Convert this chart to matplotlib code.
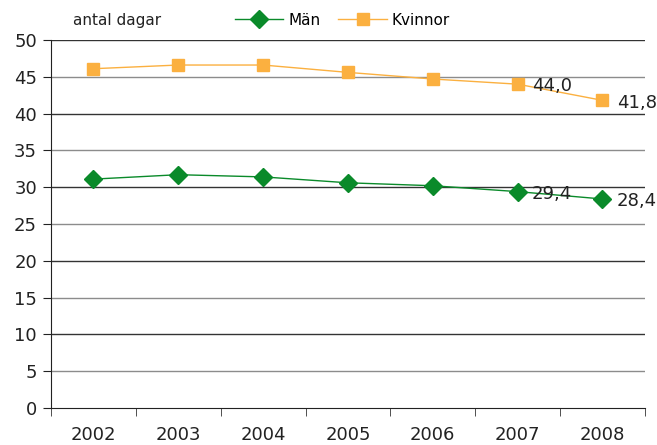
import matplotlib.pyplot as plt
import numpy as np

years = ['2002', '2003', '2004', '2005', '2006', '2007', '2008']
man = [31.1, 31.7, 31.4, 30.6, 30.2, 29.4, 28.4]
kvinnor = [46.1, 46.6, 46.6, 45.6, 44.7, 44.0, 41.8]
green = '#0a8a2a'
orange = '#fbb040'

fig = plt.figure(figsize=(6.57, 4.45), dpi=100)
ax = fig.add_axes([0.0776, 0.0831, 0.904, 0.827])

x = np.arange(len(years))

# grid lines, alternating dark / grey
for v in range(5, 51, 5):
    c = '#333333' if v % 10 == 0 else '#8c8c8c'
    ax.axhline(v, color=c, lw=1.0, zorder=0)

ax.plot(x, man, color=green, lw=1.0, marker='D', ms=9, mec=green, label='Män', zorder=3)
ax.plot(x, kvinnor, color=orange, lw=1.0, marker='s', ms=9, mec=orange, label='Kvinnor', zorder=3)

# value labels for the last two years
for i in [5, 6]:
    ax.text(x[i] + 0.17, man[i] - 0.3, f'{man[i]:.1f}'.replace('.', ','), fontsize=13,
            color='#222222', va='center', ha='left')
    ax.text(x[i] + 0.17, kvinnor[i] - 0.3, f'{kvinnor[i]:.1f}'.replace('.', ','), fontsize=13,
            color='#222222', va='center', ha='left')

ax.set_xlim(-0.5, 6.5)
ax.set_ylim(0, 50)
ax.set_yticks(range(0, 51, 5))
ax.set_xticks(x)
ax.set_xticklabels(years)
ax.set_xticks(np.arange(-0.5, 7, 1), minor=True)
ax.tick_params(axis='x', which='major', length=0, pad=13, labelsize=13, colors='#222222')
ax.tick_params(axis='x', which='minor', length=6, color='#333333')
ax.tick_params(axis='y', length=6, labelsize=13, colors='#222222', pad=4)

for s in ['top', 'right']:
    ax.spines[s].set_visible(False)
ax.spines['left'].set_color('#222222')
ax.spines['bottom'].set_color('#222222')

fig.text(0.111, 0.955, 'antal dagar', fontsize=11, color='#222222', va='center')
fig.legend(*ax.get_legend_handles_labels(), loc='center left', bbox_to_anchor=(0.357, 0.955),
           ncol=2, frameon=False, fontsize=11, handlelength=3.2, handletextpad=0.3,
           columnspacing=1.2, borderaxespad=0, borderpad=0)

plt.savefig('out.png', dpi=100)
